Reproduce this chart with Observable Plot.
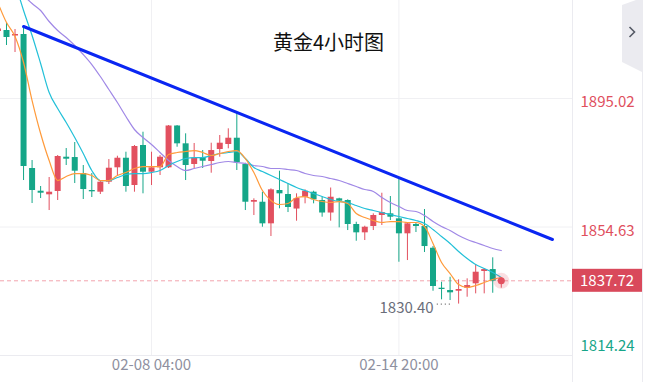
<!DOCTYPE html>
<html><head><meta charset="utf-8">
<script src="https://cdn.jsdelivr.net/npm/d3@7"></script>
<script src="https://cdn.jsdelivr.net/npm/@observablehq/plot@0.6"></script>
<style>
body{margin:0;background:#fff;}
#wrap{position:relative;width:646px;height:382px;font-family:"Noto Sans CJK SC","Noto Sans",sans-serif;}
#title{position:absolute;left:273px;top:29px;font-size:20px;color:#111;line-height:26px;white-space:nowrap;}
#chart{position:absolute;left:0;top:0;}
</style></head><body>
<div id="wrap"><div id="chart"></div><div id="title">黄金4小时图</div></div>
<script>
// ---- data (4-hour candles, index -1 .. 58) ----
const firstIndex = -1;
const opens  = [1916.08,1916.40,1914.67,1915.14,1873.02,1865.88,1864.75,1865.79,1876.57,1876.47,1871.44,1866.10,1865.57,1868.71,1873.24,1876.25,1867.67,1880.25,1871.85,1873.24,1873.24,1886.38,1880.78,1874.27,1876.47,1875.22,1878.99,1880.56,1882.54,1874.27,1862.42,1862.42,1855.63,1866.10,1864.84,1860.28,1863.99,1865.57,1862.96,1859.03,1863.49,1862.96,1855.41,1852.80,1854.78,1858.24,1858.77,1857.20,1852.49,1855.41,1854.78,1847.96,1835.39,1834.66,1834.44,1835.39,1836.77,1840.64,1841.26,1837.20];
const highs  = [1917.34,1918.60,1916.71,1917.66,1875.53,1867.36,1870.19,1877.10,1879.30,1881.19,1873.96,1871.44,1869.24,1875.84,1876.88,1878.14,1880.25,1884.43,1878.14,1877.10,1886.53,1886.53,1883.92,1880.88,1878.67,1880.97,1883.39,1885.50,1890.40,1874.68,1863.49,1865.57,1866.63,1872.17,1868.30,1865.06,1866.32,1865.88,1863.99,1866.89,1863.68,1863.18,1856.13,1854.88,1858.77,1865.25,1864.21,1869.78,1855.70,1855.73,1860.13,1848.49,1837.27,1838.84,1838.03,1838.34,1842.84,1841.48,1844.94,1838.10];
const lows   = [1915.46,1911.68,1909.48,1869.24,1862.01,1863.58,1859.81,1862.96,1873.96,1868.30,1863.27,1863.90,1864.84,1867.99,1870.82,1865.57,1865.57,1865.06,1867.67,1870.82,1873.02,1879.71,1869.24,1873.02,1873.02,1871.54,1876.57,1879.21,1872.39,1859.81,1858.24,1854.56,1851.64,1860.35,1859.18,1856.45,1861.92,1861.92,1857.71,1856.45,1854.37,1853.52,1850.16,1850.38,1853.52,1855.10,1856.67,1843.56,1844.09,1852.90,1846.61,1834.44,1831.74,1831.52,1830.40,1832.56,1833.62,1833.62,1833.81,1835.39];
const closes = [1916.87,1914.20,1915.14,1873.64,1866.10,1865.25,1865.57,1876.79,1875.94,1872.17,1866.41,1865.69,1868.71,1873.11,1876.25,1867.36,1879.93,1871.85,1873.24,1876.57,1886.38,1880.78,1873.96,1876.25,1875.31,1878.67,1880.97,1882.54,1874.81,1862.42,1862.96,1855.63,1866.32,1865.06,1860.76,1863.58,1865.88,1863.18,1859.03,1863.99,1862.74,1855.41,1852.80,1854.56,1858.24,1859.18,1857.71,1852.49,1855.63,1854.78,1848.49,1835.92,1834.98,1833.94,1834.98,1836.23,1840.42,1841.26,1837.59,1837.72];
// moving averages (same index positions)
const maFast = [1925.04,1918.91,1914.51,1906.34,1894.39,1884.02,1875.53,1869.24,1870.50,1871.44,1871.44,1870.82,1869.24,1869.24,1870.82,1871.76,1873.02,1873.64,1873.64,1873.64,1877.42,1878.05,1878.36,1878.67,1878.05,1877.10,1877.73,1878.36,1878.67,1876.16,1871.76,1866.10,1862.96,1861.70,1862.01,1863.90,1864.21,1863.27,1862.64,1862.33,1862.64,1862.01,1858.87,1857.61,1856.67,1856.04,1856.35,1856.35,1856.04,1856.04,1854.78,1849.44,1843.47,1840.01,1836.55,1835.61,1836.23,1837.18,1838.12,1838.75];
const maMid  = [null,null,1931.49,1922.69,1914.83,1906.02,1896.91,1891.88,1887.48,1882.76,1877.73,1872.39,1869.24,1869.24,1870.19,1871.13,1871.44,1871.44,1871.76,1872.39,1873.96,1875.22,1876.16,1876.47,1876.47,1877.10,1877.73,1878.05,1878.36,1876.16,1873.33,1872.07,1870.82,1869.56,1868.30,1867.04,1866.10,1865.16,1864.21,1863.27,1862.64,1862.33,1861.38,1860.44,1859.81,1859.18,1858.55,1857.93,1857.30,1856.67,1855.73,1853.84,1851.64,1849.44,1846.92,1844.72,1842.84,1841.58,1840.32,1838.75];
const maSlow = [null,null,null,1927.40,1924.89,1922.69,1919.23,1916.40,1914.20,1911.68,1908.85,1905.71,1901.94,1897.85,1893.76,1889.36,1885.28,1882.76,1880.56,1878.05,1875.53,1873.64,1872.39,1873.02,1873.64,1874.27,1874.90,1875.22,1874.90,1874.59,1873.96,1873.64,1873.02,1873.02,1872.70,1872.39,1871.44,1870.82,1870.50,1869.87,1869.24,1868.30,1867.36,1866.41,1865.79,1863.90,1862.33,1861.07,1859.81,1859.50,1858.24,1856.35,1854.78,1853.52,1851.95,1850.70,1849.75,1848.81,1847.87,1847.24];
const trendIndex = [2, 64.0];
const trendPrice = [1917.66, 1850.70];
const xTickIndex = [17, 46];
const xTickLabels = ["02-08 04:00", "02-14 20:00"];
const gridPrices = [1895.02, 1854.63];
const highLabel = 1895.02, midLabel = 1854.63, bottomLabel = 1814.24;
const lastPrice = 1837.72;
const lowPrice = 1830.40, lowIndex = 53;
const yDomain = [1814.24, 1925.83];
const xDomain = [-0.703, 66.35];

// ---- build ----
const RED = "#e2505f", GREEN = "#15a688";
const candles = opens.map((o, k) => ({i: firstIndex + k, o, h: highs[k], l: lows[k], c: closes[k]}));
const col = d => d.c >= d.o ? RED : GREEN;
const ser = arr => arr.map((v, k) => ({i: firstIndex + k, v})).filter(d => d.v != null);
const trend = trendIndex.map((i, k) => ({i, p: trendPrice[k]}));
const font = '"Noto Sans CJK SC","Noto Sans",sans-serif';

const plot = Plot.plot({
  width: 646, height: 382,
  marginLeft: 0, marginRight: 74, marginTop: 0, marginBottom: 27,
  x: {domain: xDomain, axis: null},
  y: {domain: yDomain, axis: null},
  style: {fontFamily: font, background: "transparent", overflow: "visible"},
  marks: [
    Plot.ruleX(xTickIndex, {x: d => d, stroke: "#f0f0f3", strokeWidth: 1}),
    Plot.ruleY(gridPrices, {y: d => d, stroke: "#f0f0f3", strokeWidth: 1}),
    Plot.ruleY([bottomLabel], {y: d => d, stroke: "#ebebf0", strokeWidth: 1}),
    Plot.ruleY([lastPrice], {y: d => d, stroke: "#f2a3ad", strokeDasharray: "4,3", strokeWidth: 1}),
    Plot.ruleX(candles, {x: "i", y1: "l", y2: "h", stroke: col, strokeWidth: 1, clip: true}),
    Plot.ruleX(candles, {x: "i", y1: "o", y2: "c", stroke: col, strokeWidth: 6, clip: true}),
    Plot.line(ser(maSlow), {x: "i", y: "v", stroke: "#a088e6", strokeWidth: 1.2, curve: "monotone-x", clip: true}),
    Plot.line(ser(maMid), {x: "i", y: "v", stroke: "#22c0d8", strokeWidth: 1.2, curve: "monotone-x", clip: true}),
    Plot.line(ser(maFast), {x: "i", y: "v", stroke: "#ff9a3a", strokeWidth: 1.2, curve: "monotone-x", clip: true}),
    Plot.line(trend, {x: "i", y: "p", stroke: "#0a26f2", strokeWidth: 3, clip: true}),
    Plot.dot([{i: 58, p: lastPrice}], {x: "i", y: "p", r: 8, fill: RED, fillOpacity: 0.18}),
    Plot.dot([{i: 58, p: lastPrice}], {x: "i", y: "p", r: 3.5, fill: RED}),
    Plot.ruleY([lowPrice], {y: d => d, x1: () => lowIndex - 2.5, x2: () => lowIndex - 0.8, stroke: "#666", strokeDasharray: "1,3", strokeWidth: 1.2}),
    Plot.text([{i: lowIndex, p: lowPrice}], {x: "i", y: "p", text: d => d.p.toFixed(2), textAnchor: "end", dx: -25, dy: 4.5, fill: "#6a6e7a", fontSize: 15}),
    Plot.text(xTickIndex, {x: d => d, text: (d, k) => xTickLabels[k], frameAnchor: "bottom", dy: 14, fill: "#8e90a0", fontSize: 15}),
    Plot.text([highLabel], {y: d => d, text: d => d.toFixed(2), frameAnchor: "right", textAnchor: "start", dx: 8, dy: 3.5, fill: "#e0505e", fontSize: 15}),
    Plot.text([midLabel], {y: d => d, text: d => d.toFixed(2), frameAnchor: "right", textAnchor: "start", dx: 8, dy: 4, fill: "#e0505e", fontSize: 15}),
    Plot.text([bottomLabel], {y: d => d, text: d => d.toFixed(2), frameAnchor: "right", textAnchor: "start", dx: 8, dy: -9, fill: "#17a589", fontSize: 15})
  ]
});
document.getElementById("chart").appendChild(plot);

// right axis panel decorations
const svg = d3.select(plot);
const yS = plot.scale("y");
const yLast = yS.apply(lastPrice);
const g = svg.append("g");
g.append("line").attr("x1", 572.5).attr("x2", 572.5).attr("y1", 0).attr("y2", 382).attr("stroke", "#ebebf0");
g.append("line").attr("x1", 642.5).attr("x2", 642.5).attr("y1", 0).attr("y2", 382).attr("stroke", "#ebebf0");
g.append("path").attr("d", "M622,5 L636,0 L642,0 L642,72 L622,62 Z").attr("fill", "#ebebf0");
g.append("path").attr("d", "M629.5,27 L634.5,32 L629.5,37").attr("fill", "none").attr("stroke", "#555a66").attr("stroke-width", 1.6);
g.append("rect").attr("x", 572).attr("y", yLast - 11.5).attr("width", 70).attr("height", 23).attr("fill", "#d9495b");
g.append("text").attr("x", 580).attr("y", yLast).attr("dy", "0.36em").attr("fill", "#fff")
  .attr("text-anchor", "start").attr("font-size", 15).attr("font-family", font).text(lastPrice.toFixed(2));
</script>
</body></html>
